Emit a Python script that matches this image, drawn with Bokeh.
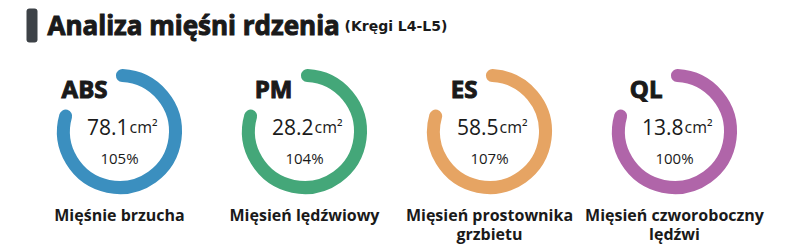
import math
from bokeh.plotting import figure
from bokeh.models import Range1d, ColumnDataSource
from bokeh.core.properties import value
from bokeh.embed import file_html
from bokeh.resources import INLINE

# ---- data ----
codes = ["ABS", "PM", "ES", "QL"]
areas = [78.1, 28.2, 58.5, 13.8]
percents = [105, 104, 107, 100]
names_line1 = ["Mięśnie brzucha", "Mięsień lędźwiowy", "Mięsień prostownika", "Mięsień czworoboczny"]
names_line2 = ["", "", "grzbietu", "lędźwi"]
colors = ["#3B8FBF", "#44A779", "#E6A463", "#B065A9"]
title = "Analiza mięśni rdzenia"
subtitle = "(Kręgi L4-L5)"
unit = "cm²"

W, H = 800, 249
FONT = "Open Sans"
INK = "#1a1a1a"

p = figure(width=W, height=H, output_backend="svg", toolbar_location=None,
           x_range=Range1d(0, W), y_range=Range1d(0, H), min_border=0)
p.axis.visible = False
p.grid.visible = False
p.outline_line_color = None
p.background_fill_color = "white"
p.border_fill_color = "white"

def Y(y, fs=0):  # screen baseline y -> data y (with font compensation)
    return H - (y - 0.4 * fs)

# layout
cx = [119 + 185 * i for i in range(len(codes))]
cy = 131
ring_r = 56
ring_w = 13
n = len(cx)

src = ColumnDataSource(dict(
    x=cx, y=[Y(cy)] * n, color=colors, code=codes,
    area=[f"{a:.1f}" for a in areas], unit=[unit] * n,
    pct=[f"{v}%" for v in percents], l1=names_line1, l2=names_line2,
    xr=[c - 12 for c in cx], xn=[c + 9 for c in cx], xu=[c + 10 for c in cx],
    yc=[Y(98, 24)] * n, yv=[Y(135, 21)] * n, yp=[Y(163, 15)] * n,
    y1=[Y(221, 16)] * n, y2=[Y(240, 16)] * n,
))

p.arc(x="x", y="y", radius=ring_r, start_angle=math.radians(87), end_angle=math.radians(164),
      direction="clock", line_color="color", line_width=ring_w, line_cap="round", source=src)

p.text(x="xr", y="yc", text="code", text_font=value(FONT), text_font_style="bold",
       text_font_size="24px", text_color=INK, text_align="right",
       text_outline_color=INK, text_baseline="alphabetic", source=src)
p.text(x="xn", y="yv", text="area", text_font=value(FONT), text_font_size="21px",
       text_color=INK, text_align="right", text_baseline="alphabetic", source=src)
p.text(x="xu", y="yv", text="unit", text_font=value(FONT), text_font_size="16px",
       text_color=INK, text_align="left", text_baseline="alphabetic", source=src)
p.text(x="x", y="yp", text="pct", text_font=value(FONT), text_font_size="15px",
       text_color=INK, text_align="center", text_baseline="alphabetic", source=src)
p.text(x="x", y="y1", text="l1", text_font=value(FONT), text_font_style="bold",
       text_font_size="16px", text_color=INK, text_align="center",
       text_baseline="alphabetic", source=src)
p.text(x="x", y="y2", text="l2", text_font=value(FONT), text_font_style="bold",
       text_font_size="16px", text_color=INK, text_align="center",
       text_baseline="alphabetic", source=src)

# title
p.quad(left=[26], right=[37], top=[Y(8)], bottom=[Y(42)], fill_color="#3d4247",
       line_color=None, border_radius=3)
p.text(x=[47], y=[Y(35, 26)], text=[title], text_font=value(FONT), text_font_style="bold",
       text_font_size="26px", text_color=INK, text_outline_color=INK,
       text_baseline="alphabetic")
p.text(x=[344], y=[Y(31, 14)], text=[subtitle], text_font=value("DejaVu Sans"),
       text_font_style="bold", text_font_size="14px", text_color=INK,
       text_baseline="alphabetic")

open("out.html", "w").write(file_html(p, INLINE))
